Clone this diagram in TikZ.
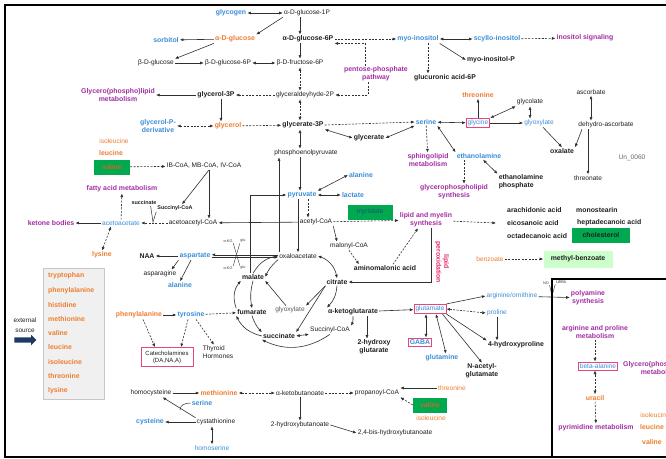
\documentclass[tikz,border=0pt]{standalone}
\usepackage{fontspec}
\setmainfont{Liberation Sans}
\usetikzlibrary{arrows.meta,shapes.arrows}
\definecolor{cBlu} {HTML}{3A8ED8}
\definecolor{cOrg} {HTML}{EE7D2E}
\definecolor{cPur} {HTML}{A22DA4}
\definecolor{cPnk} {HTML}{E8457E}
\definecolor{cRed} {HTML}{E62E6B}
\definecolor{cGrn} {HTML}{00A84F}
\definecolor{cLgr} {HTML}{CCFFCC}
\definecolor{cNavy}{HTML}{1F3864}
\definecolor{cLin} {HTML}{303030}
\tikzset{
  mt/.style    ={inner sep=1pt,text=black!88,align=center},
  mtb/.style   ={mt,font=\fontsize{6.9}{7.6}\selectfont\bfseries},
  mBlu/.style  ={mt,text=cBlu},
  mBluB/.style ={mtb,text=cBlu},
  mOrg/.style  ={mt,text=cOrg},
  mOrgB/.style ={mtb,text=cOrg},
  mPur/.style  ={mtb,text=cPur},
  mSm/.style   ={inner sep=0.5pt,font=\fontsize{3.8}{4.2}\selectfont,text=black!75},
  pbox/.style  ={draw=cPnk,line width=0.8pt,inner sep=1.6pt},
  gbox/.style  ={fill=cGrn,inner sep=2pt,minimum height=15pt},
  rx/.style    ={->,>={Latex[length=3.6pt,width=3pt]},draw=cLin,line width=0.6pt},
  rx2/.style   ={rx,<->},
  rxd/.style   ={rx,dash pattern=on 2pt off 1.4pt},
  rxd2/.style  ={rx2,dash pattern=on 2pt off 1.4pt},
}

\begin{document}
\begin{tikzpicture}[x=1pt,y=-1pt,font=\fontsize{6.6}{7.4}\selectfont]
\useasboundingbox (0,0) rectangle (666,458);
\clip (0,0) rectangle (666,458);
\fill[white] (0,0) rectangle (666,458);
\coordinate (ax) at (300,0);

% ---- sugars -------------------------------------------------------------
\node[mBluB] (glycogen) at (231,13) {glycogen};
\node[mt]    (g1p)   at (307,13) {α-D-glucose-1P};
\node[mOrgB] (aglc)  at (235,39) {α-D-glucose};
\node[mBluB] (sorb)  at (166,40) {sorbitol};
\node[mtb]   (g6p)   at (308,39) {α-D-glucose-6P};
\node[mt]    (bglc)  at (156,63) {β-D-glucose};
\node[mt]    (bg6p)  at (228,63) {β-D-glucose-6P};
\node[mt]    (f6p)   at (300,63) {β-D-fructose-6P};
\node[mPur]  (ppp)   at (376,74) {pentose-phosphate\\pathway};
\node[mt]    (gap)   at (305,95) {glyceraldeyhyde-2P};
\node[mtb]   (gol3p) at (216,95) {glycerol-3P};
\node[mPur]  (gpl)   at (118,95) {Glycero(phospho)lipid\\metabolism};
\node[mOrgB] (gol)   at (228,126) {glycerol};
\node[mBluB] (gpd)   at (158,126) {glycerol-P-\\derivative};
\node[mtb]   (g3pa)  at (303,125) {glycerate-3P};
\node[mBluB] (myo)   at (418,39) {myo-inositol};
\node[mBluB] (scy)   at (497,39) {scyllo-inositol};
\node[mPur]  (insig) at (585,38) {inositol signaling};
\node[mtb]   (myop)  at (491,60) {myo-inositol-P};
\node[mtb]   (gluc)  at (445,78) {glucuronic acid-6P};

\draw[rx2] (glycogen) -- (g1p);
\draw[rx] (g1p.south west) -- (aglc.north east);
\draw[rx] (aglc) -- (sorb);
\draw[rx] (aglc.south west) -- (bglc.north east);
\draw[rx] (bglc) -- (bg6p);
\draw[rx2] (bg6p) -- (f6p);
\draw[rx] (g1p.south -| ax) -- (g6p.north -| ax);
\draw[rx] (g6p.south -| ax) -- (f6p.north -| ax);
\draw[rxd2] (f6p.south -| ax) -- (gap.north -| ax);
\draw[rxd] (gap) -- (gol3p);
\draw[rx] (gol3p) -- (gpl);
\draw[rx] ([xshift=5pt]gol3p.south) -- ([xshift=5pt]gol3p.south |- gol.north);
\draw[rxd2] (gpd) -- (gol);
\draw[rxd] (gol) -- (g3pa);
\draw[rxd2] (gap.south -| ax) -- (g3pa.north -| ax);
\draw[rxd] ([xshift=-11pt]ppp.north) |- (g6p.south east);
\draw[rxd] ([xshift=-8pt]ppp.south) |- (gap.east);
\draw[rxd] (g6p) -- (myo);
\draw[rx2] (myo) -- (scy);
\draw[rxd] (scy) -- (insig);
\draw[rx] (myo.south east) -- (myop.west);
\draw[rxd] ([xshift=10pt]myo.south) -- ([xshift=10pt]myo.south |- gluc.north);

% ---- serine / glycine ---------------------------------------------------
\node[mtb]   (glyc)   at (369,138) {glycerate};
\node[mBluB] (ser)    at (426,122) {serine};
\node[mBlu,pbox] (gly) at (478,123) {glycine};
\node[mOrgB] (thr)    at (478,95) {threonine};
\node[mt]    (glycol) at (530,102) {glycolate};
\node[mBlu]  (glyox)  at (539,123) {glyoxylate};
\node[mtb]   (oxal)   at (562,151) {oxalate};
\node[mt]    (asc)    at (591,92) {ascorbate};
\node[mt]    (dha)    at (606,125) {dehydro-ascorbate};
\node[mt]    (thrn)   at (588,178) {threonate};
\node[mt,text=black!60] (unk) at (632,158) {Un\_0060};
\node[mPur]  (sph)    at (428,160) {sphingolipid\\metabolism};
\node[mBluB] (etha)   at (479,156) {ethanolamine};
\node[mPur]  (gpls)   at (454,192) {glycerophospholipid\\synthesis};
\node[mtb,align=left] (ethp) at (521,182) {ethanolamine\\phosphate};

\draw[rxd] (g3pa.east) -- (ser.west);
\draw[rx2] (g3pa.south east) -- (glyc.west);
\draw[rx2] (glyc.east) -- (ser.south west);
\draw[rx2] (ser) -- (gly);
\draw[rx] (gly) -- (thr);
\draw[rx2] (gly.north east) -- (glycol.south west);
\draw[rx2] (glycol.south) -- (glycol.south |- glyox.north);
\draw[rx] (gly) -- (glyox);
\draw[rx] ([xshift=4pt]glyox.south) -- (oxal.north);
\draw[rx2] (asc.south) -- (asc.south |- dha.north);
\draw[rx] ([xshift=-24pt]dha.south) -- (oxal.north east);
\draw[rx] (dha.south -| thrn.north) -- (thrn.north);
\draw[rxd] (ser) -- (sph);
\draw[rx2] (ser.south east) -- (etha.north west);
\draw[rxd] ([xshift=-15pt]etha.south) -- ([xshift=-15pt]etha.south |- gpls.north);
\draw[rx2] ([xshift=4pt]etha.south) -- (ethp.north west);

% ---- pyruvate / lipids --------------------------------------------------
\node[mt]    (pep)  at (306,153) {phosphoenolpyruvate};
\node[mBluB] (pyr)  at (302,195) {pyruvate};
\node[mBluB] (lac)  at (353,195) {lactate};
\node[mBluB] (ala)  at (361,175) {alanine};
\node[mt]    (acoa) at (316,222) {acetyl-CoA};
\node[gbox,mt,text=cBlu!55!black,minimum width=45pt] (myr) at (370,212) {myristate};
\node[mPur]  (lms)  at (426,220) {lipid and myelin\\synthesis};
\node[mt]    (mcoa) at (349,246) {malonyl-CoA};
\node[mtb]   (amal) at (385,268) {aminomalonic acid};
\node[mtb,text=cRed,rotate=-90] (lpx) at (442,262) {lipid\\peroxidation};
\foreach \n/\x/\y/\t in {arach/506/210/arachidonic acid,eico/506/223/eicosanoic acid,
  octa/506/236/octadecanoic acid,mono/575/210/monostearin,hepta/576/223/heptadecanoic acid}
  \node[mtb,anchor=west] (\n) at (\x,\y) {\t};
\node[mtb,gbox,minimum width=58pt] (chol) at (601,235) {cholesterol};
\node[mOrg] (benz) at (490,259) {benzoate};
\node[mtb,fill=cLgr,minimum width=69pt,minimum height=17pt] (mbz) at (578,259) {methyl-benzoate};

\draw[rx2] (g3pa.south -| ax) -- (pep.north -| ax);
\draw[rx] (pep.south -| ax) -- (pyr.north -| ax);
\draw[rx2] (pyr) -- (lac);
\draw[rx2] (pyr.north east) -- (ala.west);
\draw[rxd] ([xshift=6pt]pyr.south) -- ([xshift=6pt]pyr.south |- acoa.north);
\draw[rxd] (acoa) -- (lms);
\draw[rx] (acoa.south east) -- ([xshift=-12pt]mcoa.north);
\draw[rxd] (mcoa.south) -- ([xshift=-26pt]amal.north);
\draw[rxd] ([xshift=8pt]amal.north) -- ([xshift=-8pt]lms.south);
\draw[rxd] (lms) -- ([xshift=-10pt]eico.west);
\draw[rxd] (benz) -- (mbz);

% ---- TCA cycle ----------------------------------------------------------
\node[mt]  (oaa)  at (298,256) {oxaloacetate};
\node[mtb] (mal)  at (253,277) {malate};
\node[mtb] (cit)  at (337,282) {citrate};
\node[mtb] (fum)  at (252,312) {fumarate};
\node[mtb] (suc)  at (279,336) {succinate};
\node[mt]  (scoa) at (330,330) {Succinyl-CoA};
\node[mtb] (akg)  at (353,312) {α-ketoglutarate};
\node[mt,text=black!65] (glx) at (290,310) {glyoxylate};
\node[mtb] (hg)   at (374,347) {2-hydroxy\\glutarate};

\draw[rx] ([xshift=5pt]lms.south) |- (cit.east);
\draw[rx] (pyr.south -| oaa.north) -- (oaa.north);
\draw[rx] ([xshift=-19pt]oaa.north) -- ([xshift=-19pt]oaa.north |- pep.south);
\draw[rx] ([xshift=-3pt]mal.north) |- (pyr.west);
\draw[rx2] (oaa.east) to[bend left=30] (cit.north);
\draw[rx] (cit.south) to[bend left=20] (akg.north west);
\draw[rx] (akg.south) to[bend left=15] (scoa.north east);
\draw[rx2] (suc.east) -- (scoa.south west);
\draw[rx] (scoa.south) to[bend left=30] (suc.south west);
\draw[rx] (suc.west) to[bend left=25] (fum.south west);
\draw[rx] (fum.south) to[bend right=12] (suc.north west);
\draw[rx] (fum.north west) to[bend left=30] (mal.south west);
\draw[rx] (mal.south) to[bend right=12] (fum.north);
\draw[rx] (mal.north) to[bend left=25] (oaa.west);
\draw[rx] (oaa.south west) to[bend right=12] (mal.east);
\draw[rx] (cit.south west) -- (glx.north east);
\draw[rx] (cit.south west) -- (suc.north east);
\draw[rx] ([xshift=-4pt]glx.north) -- (mal.south east);

% ---- branched-chain / acetoacetate --------------------------------------
\node[mOrg]  (ile1)  at (114,141) {isoleucine};
\node[mOrgB] (leu1)  at (111,153) {leucine};
\node[mOrgB,gbox,text=cOrg!85!black,minimum width=36pt] (val1) at (112,167) {valine};
\node[mt]    (ibcoa) at (204,166) {IB-CoA, MB-CoA, IV-CoA};
\node[mPur]  (fam)   at (122,189) {fatty acid metabolism};
\node[mtb,font=\fontsize{5.4}{6}\selectfont\bfseries] (sc1) at (144,203) {succinate};
\node[mtb,font=\fontsize{5.4}{6}\selectfont\bfseries] (sc2) at (175,208) {Succinyl-CoA};
\node[mt]    (acaco) at (193,223) {acetoacetyl-CoA};
\node[mBlu]  (acac)  at (121,223) {acetoacetate};
\node[mPur]  (ket)   at (51,223) {ketone bodies};
\node[mOrgB] (lys1)  at (102,255) {lysine};
\coordinate (vtip) at (153,222);

\draw[rx] (acoa) -- (acaco);
\draw[rxd] (val1) -- (ibcoa);
\draw[rx] ([xshift=5pt]ibcoa.south) -- ([xshift=7pt]sc2.north);
\draw[rx] ([xshift=5pt]ibcoa.south) -- ([xshift=5pt]ibcoa.south |- acaco.north);
\draw[rxd] (acaco) -- (acac);
\draw[cLin,line width=0.5pt] ([xshift=-7pt]sc1.south east) -- (vtip) -- (sc2.south west);
\draw[rx] (acac) -- (ket);
\draw[rxd] (acac) -- (fam);
\draw[rxd2] ([xshift=-10pt]acac.south) -- (lys1.north);

% ---- aspartate / aromatic -----------------------------------------------
\node[mtb]   (naa)  at (147,256) {NAA};
\node[mBluB] (asp)  at (195,256) {aspartate};
\node[mt]    (aspn) at (160,274) {asparagine};
\node[mBluB] (ala2) at (180,285) {alanine};
\node[mSm] (kg1)  at (228,241) {α-KG};
\node[mSm] (glu1) at (243,241) {glu};
\node[mSm] (kg2)  at (228,268) {α-KG};
\node[mSm] (glu2) at (243,268) {glu};
\node[mOrgB] (phe) at (139,315) {phenylalanine};
\node[mBluB] (tyr) at (191,315) {tyrosine};
\node[mt,pbox,font=\fontsize{6}{7}\selectfont,minimum width=52pt,minimum height=19pt] (cat) at (167,357) {Catecholamines\\(DA,NA,A)};
\node[mt,align=left] (thy) at (218,352) {Thyroid\\Hormones};

\draw[rx] ([yshift=1.2pt]oaa.west) -- ([yshift=1.2pt]oaa.west -| asp.east);
\draw[rx] ([yshift=-1.2pt]asp.east) -- ([yshift=-1.2pt]asp.east -| oaa.west);
\draw[rx] (asp) -- (naa);
\draw[rx] (asp.south west) -- ([xshift=-6pt]aspn.north east);
\draw[rx] ([xshift=-4pt]asp.south) -- (ala2.north);
\draw[cLin,line width=0.4pt] (kg1.south east) -- (glu2.north west);
\draw[cLin,line width=0.4pt] (glu1.south west) -- (kg2.north east);
\draw[rx] (phe) -- (tyr);
\draw[rxd] (tyr) -- (fum);
\draw[rxd] ([xshift=4pt]phe.south) -- ([xshift=-12pt]cat.north);
\draw[rxd] ([xshift=-3pt]tyr.south) -- ([xshift=14pt]cat.north);
\draw[rxd] ([xshift=5pt]tyr.south) -- ([xshift=-4pt]thy.north);

% ---- external amino acids -----------------------------------------------
\node[draw=black!22,fill=black!6,minimum width=61pt,minimum height=131pt,
      anchor=north west,inner sep=0pt] (aabox) at (43,268) {};
\foreach \t [count=\i] in {tryptophan,phenylalanine,histidine,methionine,valine,
  leucine,isoleucine,threonine,lysine}
  \node[mOrgB,anchor=west] (aa\i) at (47,261.7+14.3*\i) {\t};
\node[mt,font=\fontsize{6.4}{10}\selectfont] (ext) at (25,325) {external\\source};
\node[single arrow,fill=cNavy,inner sep=2.4pt,single arrow head extend=2.6pt,
      minimum height=22pt] (extarr) at (24,340) {};

% ---- methionine / threonine ---------------------------------------------
\node[mt]    (hcy)  at (151,393) {homocysteine};
\node[mOrgB] (met)  at (219,393) {methionine};
\node[mBluB] (ser3) at (202,403) {serine};
\node[mt]    (cth)  at (216,422) {cystathionine};
\node[mBluB] (cys)  at (150,422) {cysteine};
\node[mBlu]  (hser) at (212,448) {homoserine};
\node[mt]    (akb)  at (300,393) {α-ketobutanoate};
\node[mt]    (prop) at (377,393) {propanoyl-CoA};
\node[mOrg]  (thr2) at (452,388) {threonine};
\node[mOrgB,gbox,text=cOrg!85!black,minimum width=34pt] (val2) at (430,405) {valine};
\node[mOrg]  (ile2) at (431,418) {isoleucine};
\node[mt]    (hb)   at (300,425) {2-hydroxybutanoate};
\node[mt]    (bhb)  at (395,433) {2,4-bis-hydroxybutanoate};
\coordinate (hook) at (180,410);

\draw[rx] (hcy) -- (met);
\draw[rx] (cth.north west) -- ([xshift=-10pt]hcy.south east);
\draw[cLin,line width=0.5pt] (ser3.west) .. controls +(-6,0) and +(0,-5) .. (hook);
\draw[rx] (cth) -- (cys);
\draw[rx2] ([xshift=-4pt]cth.south) -- ([xshift=-4pt]cth.south |- hser.north);
\draw[rxd2] (met) -- (akb);
\draw[rxd] (akb) -- (prop);
\draw[rx] (thr2.west) -- (thr2.west -| prop.east);
\draw[rxd] (val2.west) -- (prop.south east);
\draw[rx] (akb) -- (hb);
\draw[rx] (hb.east) -- (bhb.west);

% ---- glutamate ----------------------------------------------------------
\node[mBlu,pbox]  (glu)  at (430,309) {glutamate};
\node[mBluB,pbox] (gaba) at (420,342) {GABA};
\node[mBluB] (gln) at (442,358) {glutamine};
\node[mtb]   (nag) at (482,371) {N-acetyl-\\glutamate};
\node[mtb]   (hyp) at (516,345) {4-hydroxyproline};
\node[mBlu]  (pro) at (497,313) {proline};
\node[mBlu]  (arg) at (512,296) {arginine/ornithine};
\node[mSm]   (no)   at (546,283) {NO};
\node[mSm,font=\fontsize{5}{6}\selectfont] (urea) at (561,282) {urea};
\coordinate (nov) at (552,296);

\draw[rx] (akg) -- (glu);
\draw[rx] ([xshift=14pt]akg.south) -- ([xshift=14pt]akg.south |- hg.north);
\draw[rx2] ([xshift=-4pt]glu.south) -- ([xshift=-4pt]glu.south |- gaba.north);
\draw[rx2] ([xshift=6pt]glu.south) -- ([xshift=4pt]gln.north);
\draw[rx] ([xshift=-4pt]glu.south east) -- (nag.north);
\draw[rx] (glu.south east) -- (hyp.north west);
\draw[rxd2] (glu.east) -- (pro.west);
\draw[rx] (pro.south) -- (pro.south |- hyp.north);
\draw[rx] (glu.north east) -- (arg.west);
\draw[cLin,line width=0.4pt] (no.south east) -- (nov) -- (urea.south west);

% ---- inset --------------------------------------------------------------
\node[mPur]  (pas)  at (588,298) {polyamine\\synthesis};
\node[mPur]  (apm)  at (595,332) {arginine and proline\\metabolism};
\node[mBlu,pbox] (bala) at (598,366) {beta-alanine};
\node[mPur]  (gpl2) at (660,368) {Glycero(phospho)lipid\\metabolism};
\node[mOrgB] (ura)  at (595,398) {uracil};
\node[mPur]  (pym)  at (596,428) {pyrimidine metabolism};
\node[mOrg]  (ile3) at (655,415) {isoleucine};
\node[mOrgB] (leu3) at (652,427) {leucine};
\node[mOrgB] (val3) at (652,442) {valine};

\draw[rx] (arg) -- (pas);
\draw[rxd] (apm.south -| ura) -- (bala.north -| ura);
\draw[rxd2] (ura.north) -- (bala.south -| ura);
\draw[rxd] (ura) -- (pym);

% ---- frames -------------------------------------------------------------
\draw[line width=2.2pt] (666,5) -- (5,5) -- (5,457) -- (666,457);
\draw[line width=2.2pt] (552,458) -- (552,279) -- (666,279);
\end{tikzpicture}
\end{document}
